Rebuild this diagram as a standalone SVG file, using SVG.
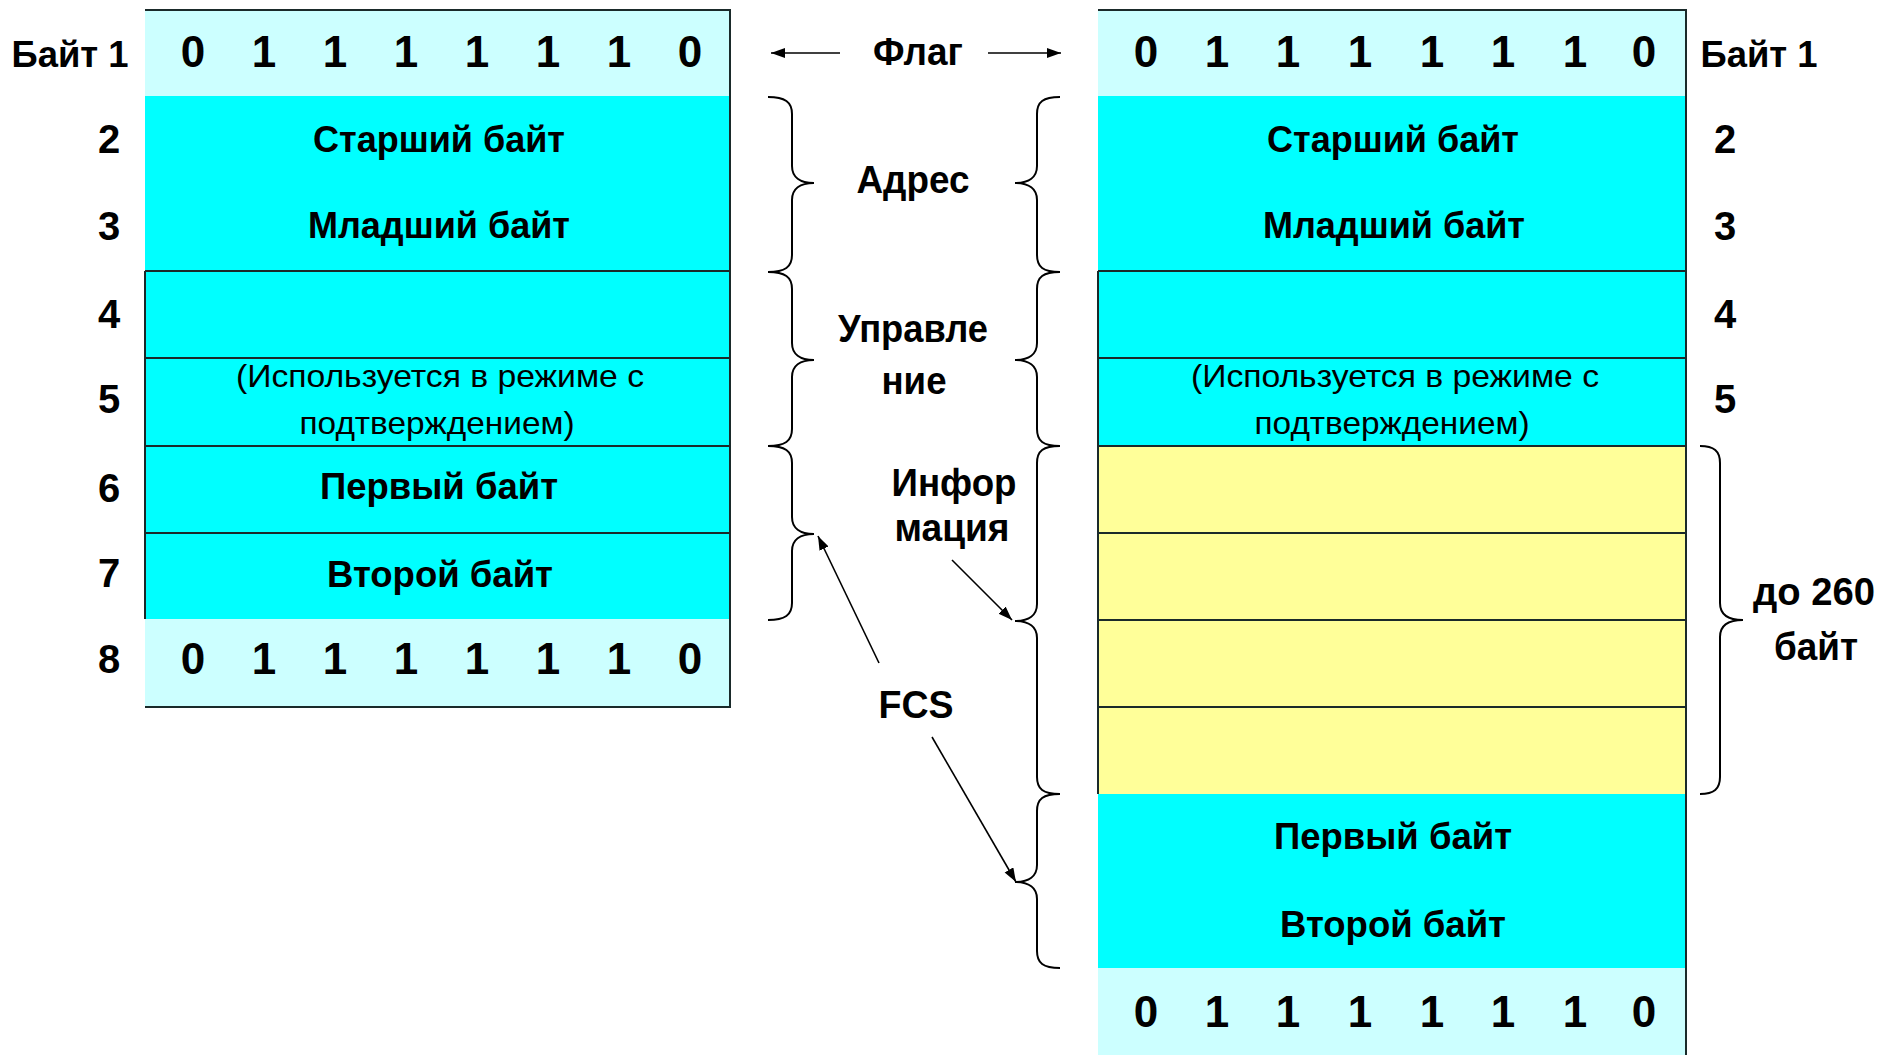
<svg xmlns="http://www.w3.org/2000/svg" width="1880" height="1055" viewBox="0 0 1880 1055">
<defs>
<style>
.t{font-family:"Liberation Sans",Arial,sans-serif;font-weight:bold;fill:#000;text-anchor:middle}
.d{font-size:44px}
.n{font-size:40px}
.c{font-size:36px}
.r{font-size:32px;font-weight:normal}
.m{font-size:38px}
.flag{fill:#ccffff}
.cyan{fill:#00ffff}
.yel{fill:#ffff99}
.ln{stroke:#1a2a2a;stroke-width:2;fill:none}
.br{stroke:#000;stroke-width:2;fill:none}
.ar{stroke:#000;stroke-width:1.6;fill:none;marker-end:url(#ah)}
</style>
<marker id="ah" markerUnits="userSpaceOnUse" markerWidth="15" markerHeight="11" refX="14" refY="5" orient="auto">
<path d="M0,0 L14,5 L0,10 z" fill="#000"/>
</marker>
</defs>
<rect width="1880" height="1055" fill="#fff"/>

<g id="left-frame">
<rect class="flag" x="145" y="10" width="585" height="86"/>
<rect class="cyan" x="145" y="96" width="585" height="523"/>
<rect class="flag" x="145" y="619" width="585" height="88"/>
<path class="ln" d="M145,10 H730 V707 H145 M145,271 V619 M145,271 H730 M145,358 H730 M145,446 H730 M145,533 H730"/>
<g class="t d">
<text x="193" y="67">0</text><text x="264" y="67">1</text><text x="335" y="67">1</text><text x="406" y="67">1</text><text x="477" y="67">1</text><text x="548" y="67">1</text><text x="619" y="67">1</text><text x="690" y="67">0</text>
<text x="193" y="674">0</text><text x="264" y="674">1</text><text x="335" y="674">1</text><text x="406" y="674">1</text><text x="477" y="674">1</text><text x="548" y="674">1</text><text x="619" y="674">1</text><text x="690" y="674">0</text>
</g>
<text class="t c" x="439" y="152" textLength="252" lengthAdjust="spacingAndGlyphs">Старший байт</text>
<text class="t c" x="439" y="238" textLength="262" lengthAdjust="spacingAndGlyphs">Младший байт</text>
<text class="t r" x="440" y="387" textLength="408" lengthAdjust="spacingAndGlyphs">(Используется в режиме с</text>
<text class="t r" x="437" y="434" textLength="275" lengthAdjust="spacingAndGlyphs">подтверждением)</text>
<text class="t c" x="439" y="499" textLength="238" lengthAdjust="spacingAndGlyphs">Первый байт</text>
<text class="t c" x="440" y="587" textLength="226" lengthAdjust="spacingAndGlyphs">Второй байт</text>
</g>

<g id="left-labels">
<text class="t c" x="70" y="67" textLength="117" lengthAdjust="spacingAndGlyphs">Байт 1</text>
<g class="t n">
<text x="109" y="153">2</text><text x="109" y="240">3</text><text x="109" y="328">4</text><text x="109" y="413">5</text><text x="109" y="502">6</text><text x="109" y="587">7</text><text x="109" y="673">8</text>
</g>
</g>

<g id="right-frame">
<rect class="flag" x="1098" y="10" width="588" height="86"/>
<rect class="cyan" x="1098" y="96" width="588" height="350"/>
<rect class="yel" x="1098" y="446" width="588" height="348"/>
<rect class="cyan" x="1098" y="794" width="588" height="174"/>
<rect class="flag" x="1098" y="968" width="588" height="87"/>
<path class="ln" d="M1098,10 H1686 V1055 M1098,271 V794 M1098,271 H1686 M1098,358 H1686 M1098,446 H1686 M1098,533 H1686 M1098,620 H1686 M1098,707 H1686"/>
<g class="t d">
<text x="1146" y="67">0</text><text x="1217" y="67">1</text><text x="1288" y="67">1</text><text x="1360" y="67">1</text><text x="1432" y="67">1</text><text x="1503" y="67">1</text><text x="1575" y="67">1</text><text x="1644" y="67">0</text>
<text x="1146" y="1027">0</text><text x="1217" y="1027">1</text><text x="1288" y="1027">1</text><text x="1360" y="1027">1</text><text x="1432" y="1027">1</text><text x="1503" y="1027">1</text><text x="1575" y="1027">1</text><text x="1644" y="1027">0</text>
</g>
<text class="t c" x="1393" y="152" textLength="252" lengthAdjust="spacingAndGlyphs">Старший байт</text>
<text class="t c" x="1394" y="238" textLength="262" lengthAdjust="spacingAndGlyphs">Младший байт</text>
<text class="t r" x="1395" y="387" textLength="408" lengthAdjust="spacingAndGlyphs">(Используется в режиме с</text>
<text class="t r" x="1392" y="434" textLength="275" lengthAdjust="spacingAndGlyphs">подтверждением)</text>
<text class="t c" x="1393" y="849" textLength="238" lengthAdjust="spacingAndGlyphs">Первый байт</text>
<text class="t c" x="1393" y="937" textLength="226" lengthAdjust="spacingAndGlyphs">Второй байт</text>
</g>

<g id="right-labels">
<text class="t c" x="1759" y="67" textLength="117" lengthAdjust="spacingAndGlyphs">Байт 1</text>
<g class="t n">
<text x="1725" y="153">2</text><text x="1725" y="240">3</text><text x="1725" y="328">4</text><text x="1725" y="413">5</text>
</g>
<text class="t m" x="1814" y="605" textLength="122" lengthAdjust="spacingAndGlyphs">до 260</text>
<text class="t m" x="1816" y="660" textLength="84" lengthAdjust="spacingAndGlyphs">байт</text>
</g>

<g id="middle-labels">
<text class="t m" x="918" y="65" textLength="90" lengthAdjust="spacingAndGlyphs">Флаг</text>
<text class="t m" x="913" y="193" textLength="113" lengthAdjust="spacingAndGlyphs">Адрес</text>
<text class="t m" x="913" y="342" textLength="150" lengthAdjust="spacingAndGlyphs">Управле</text>
<text class="t m" x="914" y="394" textLength="65" lengthAdjust="spacingAndGlyphs">ние</text>
<text class="t m" x="954" y="496" textLength="125" lengthAdjust="spacingAndGlyphs">Инфор</text>
<text class="t m" x="952" y="541" textLength="115" lengthAdjust="spacingAndGlyphs">мация</text>
<text class="t m" x="916" y="718" textLength="75" lengthAdjust="spacingAndGlyphs">FCS</text>
</g>

<g id="braces">
<path class="br" d="M768,97 C785,97 792,102 792,114 L792,166 C792,177 800,183 814,183 C800,183 792,189 792,200 L792,255 C792,267 785,272 768,272"/>
<path class="br" d="M768,272 C785,272 792,277 792,289 L792,343 C792,354 800,360 814,360 C800,360 792,366 792,377 L792,429 C792,441 785,446 768,446"/>
<path class="br" d="M768,446 C785,446 792,451 792,463 L792,517 C792,528 800,534 814,534 C800,534 792,540 792,551 L792,603 C792,615 785,620 768,620"/>
<path class="br" d="M1060,97 C1043,97 1037,102 1037,114 L1037,166 C1037,177 1029,183 1015,183 C1029,183 1037,189 1037,200 L1037,255 C1037,267 1043,272 1060,272"/>
<path class="br" d="M1060,272 C1043,272 1037,277 1037,289 L1037,343 C1037,354 1029,360 1015,360 C1029,360 1037,366 1037,377 L1037,429 C1037,441 1043,446 1060,446"/>
<path class="br" d="M1060,446 C1043,446 1037,451 1037,463 L1037,604 C1037,615 1029,621 1015,621 C1029,621 1037,627 1037,638 L1037,777 C1037,789 1043,794 1060,794"/>
<path class="br" d="M1060,794 C1043,794 1037,799 1037,811 L1037,865 C1037,876 1029,882 1015,882 C1029,882 1037,888 1037,899 L1037,951 C1037,963 1043,968 1060,968"/>
<path class="br" d="M1700,446 C1714,446 1720,451 1720,463 L1720,603 C1720,614 1728,620 1743,620 C1728,620 1720,626 1720,637 L1720,777 C1720,789 1714,794 1700,794"/>
</g>

<g id="connectors">
<line class="ar" x1="840" y1="53" x2="771" y2="53"/>
<line class="ar" x1="988" y1="53" x2="1061" y2="53"/>
<line class="ar" x1="879" y1="663" x2="818" y2="536"/>
<line class="ar" x1="932" y1="737" x2="1016" y2="882"/>
<line class="ar" x1="952" y1="560" x2="1012" y2="620"/>
</g>
</svg>
